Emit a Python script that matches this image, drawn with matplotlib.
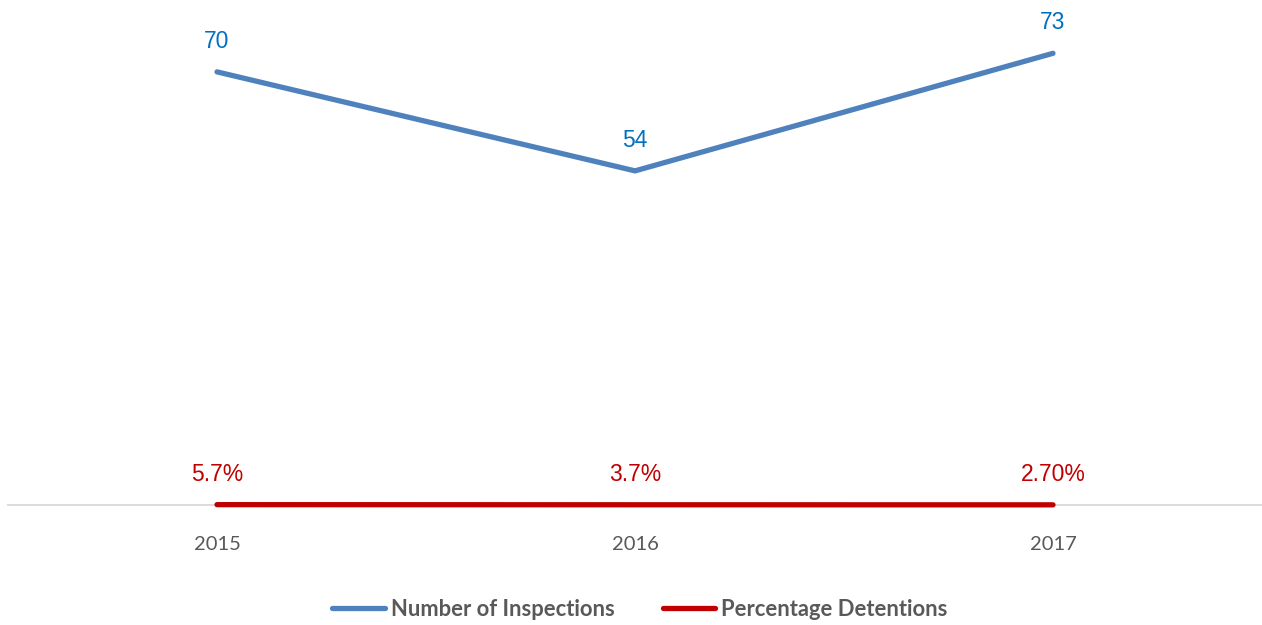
import matplotlib.pyplot as plt

years = ['2015', '2016', '2017']
inspections = [70, 54, 73]
detentions = [0.057, 0.037, 0.027]
detention_labels = ['5.7%', '3.7%', '2.70%']

fig = plt.figure(figsize=(12.62, 6.25), dpi=100)
ax = fig.add_axes([8 / 1262, 1 - 505 / 625, 1254 / 1262, 495 / 625])

x = range(len(years))
ax.plot(x, inspections, c='#4F81BD', lw=3.8, solid_capstyle='round',
        label='Number of Inspections', zorder=3, clip_on=False)
ax.plot(x, detentions, c='#C00000', lw=3.8, solid_capstyle='round',
        label='Percentage Detentions', zorder=3, clip_on=False)

for i, v in enumerate(inspections):
    ax.annotate(str(v), (i, v), xytext=(0, 22), textcoords='offset points',
                ha='center', va='center', fontsize=16.5, color='#0070C0',
                family='Liberation Sans')
for i, v in enumerate(detentions):
    ax.annotate(detention_labels[i], (i, v), xytext=(0, 22), textcoords='offset points',
                ha='center', va='center', fontsize=16.5, color='#C00000',
                family='Liberation Sans')

ax.set_xlim(-0.5, 2.5)
ax.set_ylim(0, 80)
ax.set_xticks(list(x))
ax.set_xticklabels(years, fontsize=14.5, color='#595959', family='Lato')
ax.tick_params(axis='x', length=0, pad=22)
ax.set_yticks([])
for s in ['top', 'left', 'right']:
    ax.spines[s].set_visible(False)
ax.spines['bottom'].set_color('#D9D9D9')
ax.spines['bottom'].set_linewidth(1.3)
ax.spines['bottom'].set_zorder(1)
ax.set_facecolor('none')

leg = fig.legend(loc='center', bbox_to_anchor=(0.507, 1 - 609 / 625), ncol=2,
                 frameon=False, handlelength=2.4, handletextpad=0.25, columnspacing=2.2,
                 prop={'family': 'Lato', 'weight': 'bold', 'size': 15.8})
for t in leg.get_texts():
    t.set_color('#595959')

fig.savefig('out.png', dpi=100)
